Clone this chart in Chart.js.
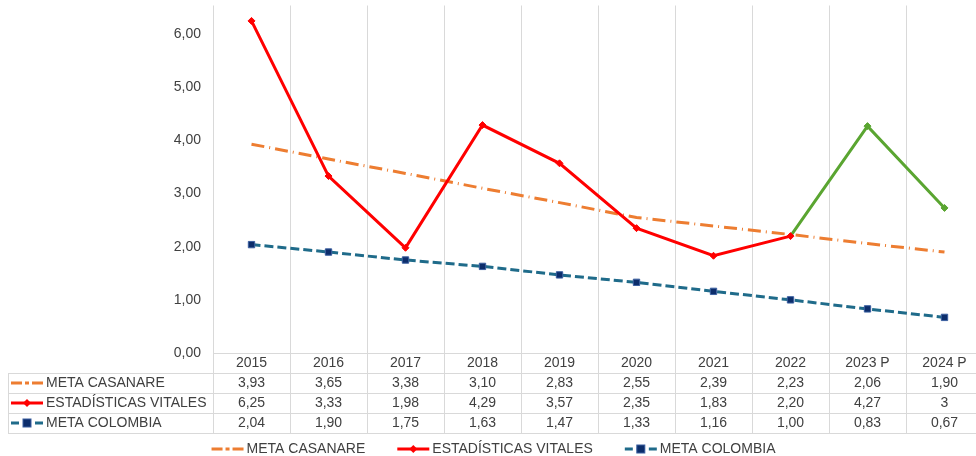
<!DOCTYPE html>
<html><head><meta charset="utf-8">
<script src="https://cdn.jsdelivr.net/npm/chart.js@4.4.1/dist/chart.umd.min.js"></script>
<style>
html,body{margin:0;padding:0;background:#fff;overflow:hidden;width:976px;height:456px}
#wrap{position:absolute;left:0;top:0;width:990px;height:456px}
</style></head>
<body><div id="wrap"><canvas id="c" width="990" height="456"></canvas></div>
<script>
// ---- data ----
const categories = ['2015','2016','2017','2018','2019','2020','2021','2022','2023 P','2024 P'];
const metaCasanare = [3.93,3.65,3.38,3.10,2.83,2.55,2.39,2.23,2.06,1.90];
const estadisticasVitales = [6.25,3.33,1.98,4.29,3.57,2.35,1.83,2.20,4.27,2.73];
const metaColombia = [2.04,1.90,1.75,1.63,1.47,1.33,1.16,1.00,0.83,0.67];
const seriesNames = ['META CASANARE','ESTADÍSTICAS VITALES','META COLOMBIA'];
const yTicks = [0,1,2,3,4,5,6];
const casanareDecimals = [2,2,2,2,2,2,2,2,2,2];
const vitalDecimals = [2,2,2,2,2,2,2,2,2,0];
const colombiaDecimals = [2,2,2,2,2,2,2,2,2,2];
const projectedFrom = 7; // segments after this index are projections

// ---- styles ----
const FONT = '"Liberation Sans", Arial, sans-serif';
const TXT = '#404040', GRID = '#D9D9D9';
const C_OR = '#ED7D31', C_RED = '#FF0000', C_GREEN = '#5AA531', C_TEAL = '#1F6B8A', C_NAVY = '#0C2D6B';
Chart.defaults.font.family = FONT;
Chart.defaults.font.size = 14;
Chart.defaults.color = TXT;

function fmt(v, d){ return Number(v).toFixed(d).replace('.', ','); }
const vitalPointColors = estadisticasVitales.map((v,i)=> i>projectedFrom ? C_GREEN : C_RED);

function alignPx(p){ return Math.round(p - 0.5) + 0.5; }

function drawSample(ctx, i, x0, x1, y){
  ctx.save();
  ctx.lineWidth = 3; ctx.lineCap = 'butt';
  if (i===0){ ctx.strokeStyle = C_OR; ctx.setLineDash([11,3,4,3]); }
  else if (i===1){ ctx.strokeStyle = C_RED; ctx.setLineDash([]); }
  else { ctx.strokeStyle = C_TEAL; ctx.setLineDash([8,4]); }
  ctx.beginPath(); ctx.moveTo(x0,y); ctx.lineTo(x1,y); ctx.stroke();
  ctx.setLineDash([]);
  const xm = (x0+x1)/2;
  if (i===1){
    ctx.fillStyle = C_RED;
    ctx.beginPath(); ctx.moveTo(xm, y-4); ctx.lineTo(xm+4, y); ctx.lineTo(xm, y+4); ctx.lineTo(xm-4, y); ctx.closePath(); ctx.fill();
  } else if (i===2){
    ctx.fillStyle = C_NAVY; ctx.strokeStyle = '#3A5FA0'; ctx.lineWidth = 1;
    ctx.fillRect(xm-4, y-4, 8, 8); ctx.strokeRect(xm-4, y-4, 8, 8);
  }
  ctx.restore();
}

const tablePlugin = {
  id: 'dataTable',
  afterDraw(chart){
    const ctx = chart.ctx, ca = chart.chartArea, xs = chart.scales.x;
    const n = categories.length;
    const colW = (ca.right - ca.left) / n;
    const top = ca.bottom, rowH = 20;
    const rowTops = [top + rowH, top + 2*rowH, top + 3*rowH, top + 4*rowH];
    const W = chart.width;
    ctx.save();
    ctx.strokeStyle = GRID; ctx.lineWidth = 1;
    ctx.beginPath();
    rowTops.forEach(y => { ctx.moveTo(8, alignPx(y)); ctx.lineTo(W, alignPx(y)); });
    for (let k=0;k<=n;k++){
      const x = alignPx(ca.left + k*colW);
      ctx.moveTo(x, top); ctx.lineTo(x, rowTops[3]);
    }
    ctx.moveTo(alignPx(8), rowTops[0]); ctx.lineTo(alignPx(8), rowTops[3]);
    ctx.stroke();

    const rows = [
      [metaCasanare, casanareDecimals],
      [estadisticasVitales, vitalDecimals],
      [metaColombia, colombiaDecimals]
    ];
    ctx.font = '14px ' + FONT; ctx.fillStyle = TXT; ctx.textBaseline = 'middle';
    rows.forEach((r, ri) => {
      const yc = rowTops[ri] + rowH/2;
      drawSample(ctx, ri, 11, 43, yc);
      ctx.fillStyle = TXT; ctx.textAlign = 'left';
      ctx.fillText(seriesNames[ri], 46, yc);
      ctx.textAlign = 'center';
      r[0].forEach((v, i) => ctx.fillText(fmt(v, r[1][i]), xs.getPixelForValue(i), yc));
    });

    // bottom legend
    const sampleW = 32, tGap = 3, itemGap = 32;
    const widths = seriesNames.map(s => sampleW + tGap + ctx.measureText(s).width);
    const total = widths.reduce((a,b)=>a+b,0) + itemGap*(widths.length-1);
    let x = 493.5 - total/2;
    const ly = 449;
    seriesNames.forEach((s, i) => {
      drawSample(ctx, i, x, x+sampleW, ly);
      ctx.fillStyle = TXT; ctx.textAlign = 'left';
      ctx.fillText(s, x + sampleW + tGap, ly);
      x += widths[i] + itemGap;
    });
    ctx.restore();
  }
};

new Chart(document.getElementById('c'), {
  type: 'line',
  data: {
    labels: categories,
    datasets: [
      { label: seriesNames[0], data: metaCasanare, borderColor: C_OR, borderWidth: 3,
        borderDash: [13,5,1,5], pointRadius: 0, order: 3, tension: 0, fill: false },
      { label: seriesNames[1], data: estadisticasVitales, borderColor: C_RED, borderWidth: 3,
        segment: { borderColor: c => c.p0DataIndex >= projectedFrom ? C_GREEN : C_RED },
        pointStyle: 'rectRot', pointRadius: 3.5, pointBackgroundColor: vitalPointColors,
        pointBorderColor: vitalPointColors, pointBorderWidth: 1, order: 1, tension: 0, fill: false },
      { label: seriesNames[2], data: metaColombia, borderColor: C_TEAL, borderWidth: 3,
        borderDash: [9,4], pointStyle: 'rect', pointRadius: 4.5, pointBackgroundColor: C_NAVY,
        pointBorderColor: '#3A5FA0', pointBorderWidth: 1, order: 2, tension: 0, fill: false }
    ]
  },
  options: {
    responsive: false, animation: false, devicePixelRatio: 1,
    layout: { padding: { top: 4, right: 7, left: 0, bottom: 0 } },
    plugins: { legend: { display: false }, tooltip: { enabled: false } },
    scales: {
      x: {
        offset: true,
        grid: { offset: true, color: GRID, drawTicks: false, lineWidth: 1 },
        border: { color: GRID },
        ticks: { padding: 2, maxRotation: 0, autoSkip: false, color: TXT, font: { size: 14 } },
        afterFit(s){ s.height = 103; s.paddingLeft = 0; s.paddingRight = 0; }
      },
      y: {
        min: 0, max: 6.54,
        grid: { display: false, drawTicks: false },
        border: { display: false },
        ticks: { stepSize: 1, padding: 12, color: TXT, font: { size: 14 }, callback: v => fmt(v, 2) },
        afterFit(s){ s.width = 213; s.paddingTop = 0; s.paddingBottom = 0; },
        afterBuildTicks(s){ s.ticks = s.ticks.filter(t => yTicks.includes(t.value)); }
      }
    }
  },
  plugins: [tablePlugin]
});
</script>
</body></html>
